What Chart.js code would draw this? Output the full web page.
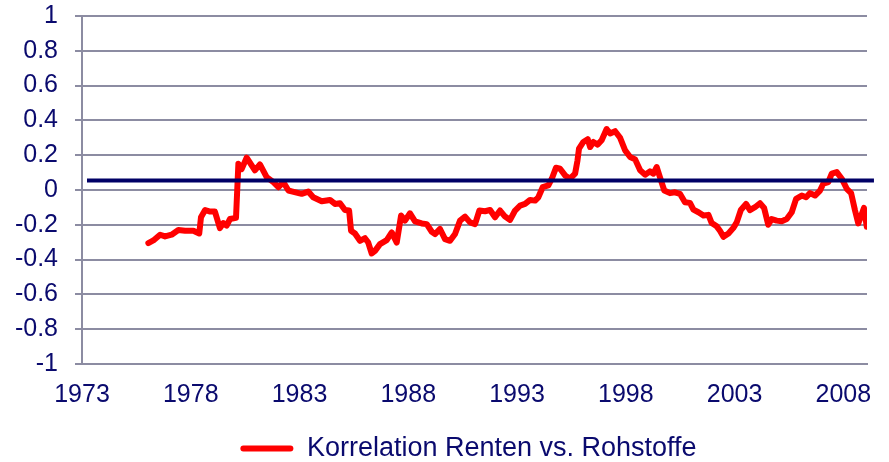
<!DOCTYPE html>
<html>
<head>
<meta charset="utf-8">
<script src="https://cdn.jsdelivr.net/npm/chart.js@4/dist/chart.umd.min.js"></script>
<style>
  html, body { margin: 0; padding: 0; background: #ffffff; }
  #wrap { width: 889px; height: 462px; position: relative; }
</style>
</head>
<body>
<div id="wrap"><canvas id="c" width="889" height="462"></canvas></div>
<script>
// ---- data ----
const dates = [
  1976.05, 1976.28, 1976.59, 1976.82, 1977.12, 1977.43, 1977.74, 1978.12, 1978.39, 1978.47,
  1978.66, 1978.89, 1979.11, 1979.34, 1979.50, 1979.65, 1979.80, 1980.08, 1980.19, 1980.34,
  1980.57, 1980.95, 1981.18, 1981.49, 1981.80, 1982.03, 1982.26, 1982.49, 1982.64, 1983.10,
  1983.40, 1983.63, 1984.02, 1984.40, 1984.63, 1984.86, 1985.09, 1985.28, 1985.37, 1985.55,
  1985.78, 1986.01, 1986.16, 1986.32, 1986.47, 1986.70, 1987.01, 1987.24, 1987.47, 1987.67,
  1987.85, 1988.08, 1988.31, 1988.62, 1988.85, 1989.08, 1989.23, 1989.46, 1989.69, 1989.92,
  1990.15, 1990.38, 1990.61, 1990.84, 1991.07, 1991.27, 1991.53, 1991.76, 1991.99, 1992.22,
  1992.45, 1992.68, 1992.91, 1993.14, 1993.37, 1993.60, 1993.83, 1993.98, 1994.18, 1994.44,
  1994.60, 1994.79, 1994.98, 1995.21, 1995.44, 1995.67, 1995.78, 1995.85, 1996.05, 1996.25,
  1996.36, 1996.51, 1996.71, 1996.89, 1997.12, 1997.28, 1997.51, 1997.74, 1997.97, 1998.20,
  1998.43, 1998.66, 1998.89, 1999.11, 1999.27, 1999.42, 1999.57, 1999.77, 2000.03, 2000.26,
  2000.49, 2000.72, 2000.95, 2001.11, 2001.34, 2001.57, 2001.80, 2001.95, 2002.18, 2002.33,
  2002.49, 2002.72, 2002.94, 2003.10, 2003.29, 2003.53, 2003.71, 2003.94, 2004.17, 2004.36,
  2004.55, 2004.71, 2004.94, 2005.17, 2005.40, 2005.63, 2005.83, 2006.09, 2006.29, 2006.47,
  2006.70, 2006.93, 2007.08, 2007.31, 2007.47, 2007.70, 2007.93, 2008.16, 2008.36, 2008.54,
  2008.69, 2008.85, 2008.95, 2009.08
];
const correlation = [
  -0.305, -0.290, -0.257, -0.267, -0.257, -0.230, -0.234, -0.234, -0.250, -0.157,
  -0.115, -0.124, -0.124, -0.219, -0.190, -0.205, -0.167, -0.160,  0.151,  0.120,
   0.186,  0.113,  0.147,  0.074,  0.045,  0.016,  0.045, -0.003, -0.008, -0.022,
  -0.009, -0.042, -0.065, -0.057, -0.080, -0.076, -0.115, -0.118, -0.234, -0.250,
  -0.292, -0.277, -0.302, -0.365, -0.350, -0.311, -0.288, -0.244, -0.302, -0.147,
  -0.176, -0.134, -0.180, -0.192, -0.196, -0.240, -0.253, -0.224, -0.282, -0.292,
  -0.253, -0.176, -0.153, -0.186, -0.196, -0.118, -0.122, -0.115, -0.157, -0.118,
  -0.153, -0.172, -0.118, -0.090, -0.080, -0.057, -0.061, -0.042,  0.016,  0.026,
   0.065,  0.128,  0.122,  0.084,  0.065,  0.094,  0.170,  0.238,  0.276,  0.292,
   0.247,  0.276,  0.261,  0.286,  0.350,  0.325,  0.338,  0.300,  0.228,  0.190,
   0.176,  0.113,  0.088,  0.107,  0.094,  0.132,  0.074, -0.003, -0.018, -0.013,
  -0.022, -0.070, -0.074, -0.113, -0.128, -0.147, -0.143, -0.190, -0.209, -0.234,
  -0.269, -0.250, -0.219, -0.186, -0.115, -0.080, -0.115, -0.099, -0.076, -0.103,
  -0.200, -0.167, -0.176, -0.180, -0.167, -0.128, -0.051, -0.032, -0.042, -0.018,
  -0.032, -0.003,  0.036,  0.045,  0.094,  0.103,  0.065,  0.007, -0.018, -0.118,
  -0.192, -0.138, -0.103, -0.211
];
const refLineDates = [1973.23, 2009.41];
const refLineValues = [0.055, 0.055];
const xTickLabels = [1973, 1978, 1983, 1988, 1993, 1998, 2003, 2008];
const yTickLabels = [-1, -0.8, -0.6, -0.4, -0.2, 0, 0.2, 0.4, 0.6, 0.8, 1];
const seriesName = "Korrelation Renten vs. Rohstoffe";

// ---- styling ----
const NAVY_TEXT = '#0a0a6e';
const GRID = 'rgb(140,140,162)';
const FONT = "'Liberation Sans', Arial, sans-serif";

const seriesPoints = dates.map((d, i) => ({ x: d, y: correlation[i] }));
const refPoints = refLineDates.map((d, i) => ({ x: d, y: refLineValues[i] }));

// nudge the legend a little to the left, like the original layout
const legendShift = {
  id: 'legendShift',
  afterLayout(chart) {
    const lg = chart.legend;
    if (lg) { lg.left -= 6; lg.right -= 6; }
  }
};

new Chart(document.getElementById('c'), {
  type: 'line',
  data: {
    datasets: [
      {
        label: seriesName,
        data: seriesPoints,
        borderColor: '#ff0000',
        backgroundColor: '#ff0000',
        borderWidth: 6,
        pointRadius: 0,
        tension: 0,
        borderJoinStyle: 'round',
        borderCapStyle: 'round',
        order: 2
      },
      {
        label: 'ref',
        data: refPoints,
        borderColor: '#000066',
        backgroundColor: '#000066',
        borderWidth: 4,
        pointRadius: 0,
        tension: 0,
        clip: false,
        order: 1
      }
    ]
  },
  plugins: [legendShift],
  options: {
    responsive: false,
    animation: false,
    devicePixelRatio: 1,
    layout: { padding: { left: 0, right: 22, top: 16, bottom: -10 } },
    plugins: {
      tooltip: { enabled: false },
      legend: {
        position: 'bottom',
        fullSize: false,
        labels: {
          color: NAVY_TEXT,
          font: { family: FONT, size: 27 },
          boxWidth: 53,
          boxHeight: 6,
          useBorderRadius: true,
          borderRadius: 3,
          padding: 8,
          filter: (item) => item.datasetIndex === 0,
          generateLabels: (chart) => {
            const items = Chart.defaults.plugins.legend.labels.generateLabels(chart);
            return items.map(it => Object.assign(it, { lineWidth: 0, fillStyle: '#ff0000', strokeStyle: '#ff0000' }));
          }
        }
      }
    },
    scales: {
      x: {
        type: 'linear',
        min: 1973,
        max: 2009.09,
        grid: { display: false, drawTicks: false, tickLength: 0 },
        border: { display: true, color: GRID, width: 2 },
        afterBuildTicks: (axis) => { axis.ticks = xTickLabels.map(v => ({ value: v })); },
        afterFit: (axis) => { axis.height = 63; },
        ticks: {
          color: NAVY_TEXT,
          font: { family: FONT, size: 25 },
          padding: 16,
          autoSkip: false,
          maxRotation: 0,
          callback: (v) => String(v)
        }
      },
      y: {
        type: 'linear',
        min: -1,
        max: 1,
        grid: { color: GRID, lineWidth: 2, drawTicks: true, tickLength: 7 },
        border: { display: true, color: GRID, width: 2 },
        afterBuildTicks: (axis) => { axis.ticks = yTickLabels.map(v => ({ value: v })); },
        afterFit: (axis) => { axis.width = 82; axis.paddingTop = 0; axis.paddingBottom = 0; },
        ticks: {
          color: NAVY_TEXT,
          font: { family: FONT, size: 25 },
          padding: 17,
          autoSkip: false,
          callback: (v) => String(v)
        }
      }
    }
  }
});
</script>
</body>
</html>
